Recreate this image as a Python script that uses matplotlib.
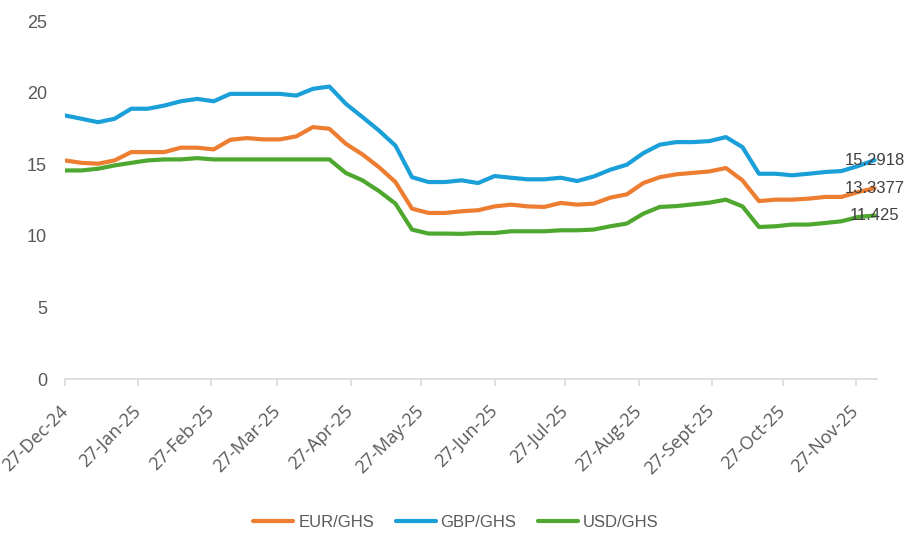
import numpy as np
import pandas as pd
import matplotlib
matplotlib.use("Agg")
import matplotlib.pyplot as plt

dates = pd.date_range("2024-12-27", periods=50, freq="7D")

eur = [15.27, 15.10, 15.04, 15.27, 15.85, 15.85, 15.85, 16.16, 16.16, 16.04,
       16.71, 16.83, 16.74, 16.74, 16.95, 17.60, 17.48, 16.43, 15.69, 14.80,
       13.76, 11.90, 11.60, 11.60, 11.72, 11.79, 12.06, 12.18, 12.06, 12.02,
       12.30, 12.18, 12.25, 12.67, 12.90, 13.69, 14.10, 14.30, 14.40, 14.50,
       14.74, 13.88, 12.43, 12.53, 12.53, 12.60, 12.72, 12.72, 13.06, 13.3377]
gbp = [18.41, 18.18, 17.94, 18.18, 18.88, 18.88, 19.10, 19.40, 19.57, 19.40,
       19.92, 19.92, 19.92, 19.92, 19.80, 20.27, 20.43, 19.22, 18.30, 17.36,
       16.30, 14.10, 13.76, 13.76, 13.88, 13.69, 14.18, 14.06, 13.95, 13.95,
       14.06, 13.83, 14.15, 14.62, 14.97, 15.78, 16.37, 16.55, 16.55, 16.62,
       16.90, 16.20, 14.34, 14.34, 14.23, 14.34, 14.46, 14.53, 14.88, 15.2918]
usd = [14.57, 14.57, 14.69, 14.92, 15.10, 15.27, 15.34, 15.34, 15.43, 15.34,
       15.34, 15.34, 15.34, 15.34, 15.34, 15.34, 15.34, 14.39, 13.88, 13.13,
       12.25, 10.44, 10.16, 10.16, 10.14, 10.20, 10.20, 10.32, 10.32, 10.32,
       10.39, 10.39, 10.44, 10.67, 10.86, 11.55, 12.02, 12.08, 12.20, 12.32,
       12.53, 12.06, 10.62, 10.67, 10.79, 10.79, 10.90, 11.02, 11.32, 11.425]

end_labels = ["15.2918", "13.3377", "11.425"]
tick_dates = pd.to_datetime(["2024-12-27", "2025-01-27", "2025-02-27", "2025-03-27",
                             "2025-04-27", "2025-05-27", "2025-06-27", "2025-07-27",
                             "2025-08-27", "2025-09-27", "2025-10-27", "2025-11-27"])
tick_labels = ["27-Dec-24", "27-Jan-25", "27-Feb-25", "27-Mar-25", "27-Apr-25",
               "27-May-25", "27-Jun-25", "27-Jul-25", "27-Aug-25", "27-Sept-25",
               "27-Oct-25", "27-Nov-25"]

narrow = ["Liberation Sans", "DejaVu Sans"]
grey = "#595959"

fig = plt.figure(figsize=(9.12, 5.42), dpi=100)
ax = fig.add_axes([0.0713, 0.3007, 0.8903, 0.6603])

ax.plot(dates, eur, color="#ED7D31", lw=3, label="EUR/GHS", solid_capstyle="round")
ax.plot(dates, gbp, color="#1A9FD9", lw=3, label="GBP/GHS", solid_capstyle="round")
ax.plot(dates, usd, color="#4EA72E", lw=3, label="USD/GHS", solid_capstyle="round")

for series, txt in zip([gbp, eur, usd], end_labels):
    ax.text(dates[-1], series[-1], txt, ha="center", va="center",
            fontsize=12, color="#404040", family=narrow)

ax.set_ylim(0, 25)
ax.set_xlim(pd.Timestamp("2024-12-27"), pd.Timestamp("2025-12-06"))
ax.set_yticks([0, 5, 10, 15, 20, 25])
ax.set_xticks(tick_dates)
ax.set_xticklabels(tick_labels, rotation=45, ha="right", va="center",
                   rotation_mode="anchor", family=["Open Sans", "DejaVu Sans"])

for s in ["top", "right", "left"]:
    ax.spines[s].set_visible(False)
ax.spines["bottom"].set_color("#d9d9d9")
ax.spines["bottom"].set_linewidth(1.2)
ax.tick_params(axis="y", length=0, pad=13, labelsize=13, labelcolor=grey)
ax.tick_params(axis="x", length=5, color="#d9d9d9", width=1.2, pad=16,
               labelsize=13, labelcolor=grey)
for lab in ax.get_yticklabels():
    lab.set_family(narrow)

leg = fig.legend(loc="lower center", bbox_to_anchor=(0.5, -0.005), ncol=3,
                 frameon=False, handlelength=2.4, columnspacing=1.3,
                 handletextpad=0.3, prop={"family": narrow, "size": 12})
for t in leg.get_texts():
    t.set_color(grey)

fig.savefig("out.png", dpi=100)
